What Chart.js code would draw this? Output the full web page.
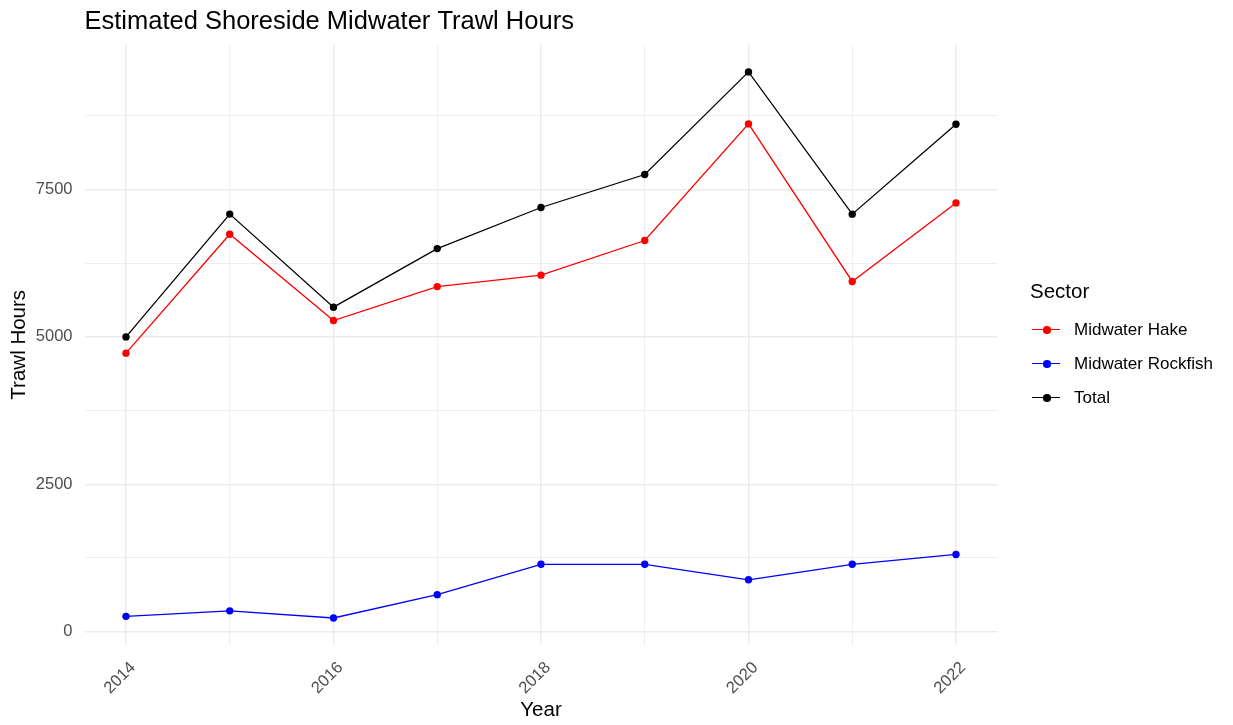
<!DOCTYPE html>
<html lang="en">
  <head>
    <meta charset="UTF-8" />
    <title>Estimated Shoreside Midwater Trawl Hours</title>
    <script src="https://cdn.jsdelivr.net/npm/chart.js"></script>
    <style>
      html, body {
        margin: 0;
        padding: 0;
        background: #ffffff;
      }
      .wrap {
        position: relative;
        width: 1233px;
        height: 725px;
        font-family: "Liberation Sans", Arial, sans-serif;
      }
      .legend {
        position: absolute;
        left: 1030px;
        top: 279px;
        color: #000;
      }
      .legend .ttl {
        font-size: 20.5px;
        margin-bottom: 10px;
      }
      .legend .row {
        display: flex;
        align-items: center;
        height: 34px;
        font-size: 17px;
      }
      .legend .key {
        position: relative;
        width: 30px;
        height: 14px;
        margin-right: 14px;
      }
      .legend .key .ln {
        position: absolute;
        left: 2px;
        right: 0;
        top: 6px;
        height: 1.3px;
      }
      .legend .key .dot {
        position: absolute;
        left: 13px;
        top: 3px;
        width: 7.5px;
        height: 7.5px;
        border-radius: 50%;
      }
    </style>
  </head>
  <body>
    <div class="wrap">
      <canvas id="trawlChart" width="1233" height="725"></canvas>
      <div class="legend" id="legend"></div>
    </div>

    <script>
      // valores
      const years = [2014, 2015, 2016, 2017, 2018, 2019, 2020, 2021, 2022];
      const hake = [4724, 6742, 5277, 5853, 6047, 6635, 8613, 5940, 7273];
      const rockfish = [260, 353, 232, 628, 1143, 1143, 880, 1143, 1310];
      const total = [5000, 7083, 5504, 6498, 7195, 7754, 9495, 7082, 8608];
      const seriesNames = ["Midwater Hake", "Midwater Rockfish", "Total"];
      const seriesColors = ["#ff0000", "#0000ff", "#000000"];
      const yTicks = [0, 1250, 2500, 3750, 5000, 6250, 7500, 8750];

      const allSeries = [hake, rockfish, total];
      const font = "'Liberation Sans', Arial, sans-serif";

      const datasets = allSeries.map((vals, i) => ({
        label: seriesNames[i],
        data: vals.map((v, j) => ({ x: years[j], y: v })),
        borderColor: seriesColors[i],
        backgroundColor: seriesColors[i],
        borderWidth: 1.3,
        pointRadius: 3.7,
        pointBorderWidth: 0,
        pointHoverRadius: 3.7,
        tension: 0,
      }));

      new Chart(document.getElementById("trawlChart").getContext("2d"), {
        type: "line",
        data: { datasets: datasets },
        options: {
          responsive: false,
          animation: false,
          events: [],
          layout: { padding: { left: 0, right: 235.5, top: 0, bottom: 0 } },
          plugins: {
            legend: { display: false },
            tooltip: { enabled: false },
            title: {
              display: true,
              text: "Estimated Shoreside Midwater Trawl Hours",
              align: "start",
              fullSize: false,
              color: "#000",
              font: { family: font, size: 25.5, weight: "normal" },
              padding: { top: 7, bottom: 7 },
            },
          },
          scales: {
            x: {
              type: "linear",
              min: 2013.6,
              max: 2022.4,
              afterBuildTicks: (scale) => {
                scale.ticks = years.map((y) => ({ value: y }));
              },
              afterFit: (scale) => {
                scale.height = 80;
              },
              border: { display: false },
              grid: {
                color: "#ebebeb",
                lineWidth: (ctx) => (ctx.tick && ctx.tick.value % 2 === 0 ? 1.5 : 0.8),
                drawTicks: false,
              },
              ticks: {
                autoSkip: false,
                minRotation: 45,
                maxRotation: 45,
                padding: 13,
                labelOffset: 7,
                color: "#4d4d4d",
                font: { family: font, size: 16.5 },
                callback: (v) => (v % 2 === 0 ? String(v) : ""),
              },
              title: {
                display: true,
                text: "Year",
                color: "#000",
                font: { family: font, size: 20.5 },
                padding: { top: 0, bottom: 2 },
              },
            },
            y: {
              min: -226,
              max: 9958,
              afterBuildTicks: (scale) => {
                scale.ticks = yTicks.map((v) => ({ value: v }));
              },
              afterFit: (scale) => {
                scale.width = 84.5;
              },
              border: { display: false },
              grid: {
                color: "#ebebeb",
                lineWidth: (ctx) => (ctx.tick && ctx.tick.value % 2500 === 0 ? 1.5 : 0.8),
                drawTicks: false,
              },
              ticks: {
                padding: 12,
                color: "#4d4d4d",
                font: { family: font, size: 16.5 },
                callback: (v) => (v % 2500 === 0 ? String(v) : ""),
              },
              title: {
                display: true,
                text: "Trawl Hours",
                color: "#000",
                font: { family: font, size: 20.5 },
                padding: { top: 7, bottom: 0 },
              },
            },
          },
        },
      });

      // leyenda en HTML
      const legend = document.getElementById("legend");
      let html = '<div class="ttl">Sector</div>';
      seriesNames.forEach((name, i) => {
        html +=
          '<div class="row"><div class="key"><div class="ln" style="background:' +
          seriesColors[i] +
          '"></div><div class="dot" style="background:' +
          seriesColors[i] +
          '"></div></div>' +
          name +
          "</div>";
      });
      legend.innerHTML = html;
    </script>
  </body>
</html>
